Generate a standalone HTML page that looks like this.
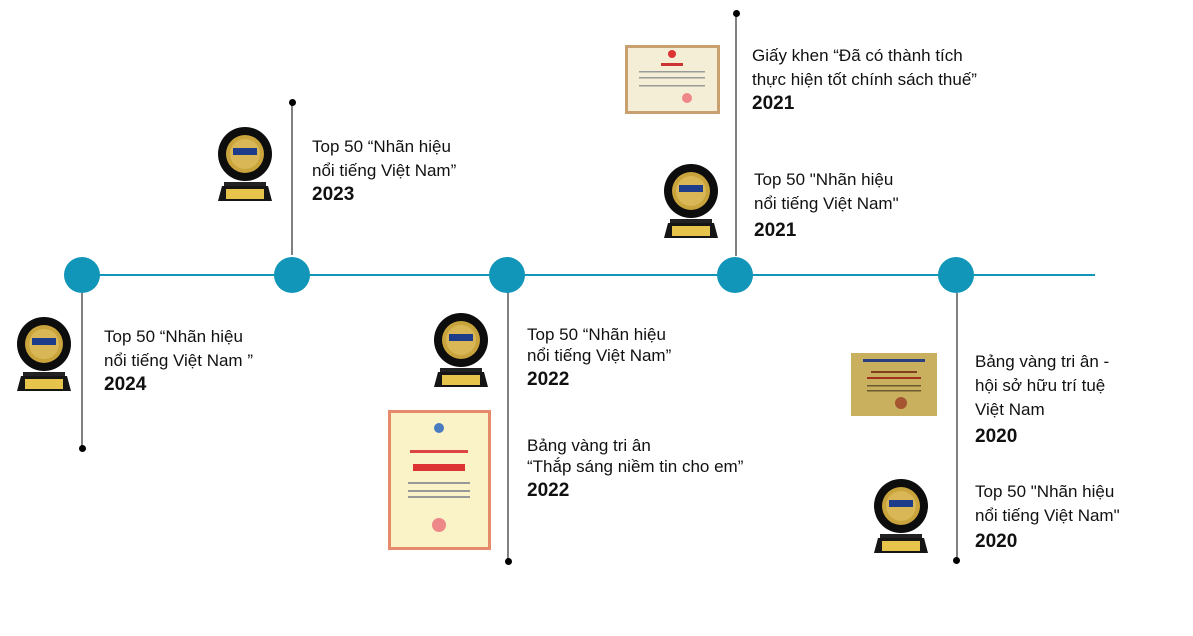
<!DOCTYPE html>
<html><head><meta charset="utf-8">
<style>
body{margin:0;width:1193px;height:636px;background:#fff;position:relative;overflow:hidden;font-family:"Liberation Sans","DejaVu Sans",sans-serif;color:#111}
.a{position:absolute}
.t{position:absolute;font-size:17px;line-height:24px;white-space:nowrap}
.t b{font-size:19px;font-weight:bold}
.c{position:absolute;width:36px;height:36px;border-radius:50%;background:#1195b8}
.s{position:absolute;width:2px;background:#808080}
.d{position:absolute;width:7px;height:7px;border-radius:50%;background:#000}
</style></head><body>
<svg width="0" height="0" style="position:absolute"><defs>
<g id="tr">
<rect x="6" y="56" width="42" height="4" fill="#222"/>
<polygon points="4,60 50,60 54,75 0,75" fill="#151515"/>
<rect x="8" y="63" width="38" height="10" fill="#e6c34a"/>
<circle cx="27" cy="28" r="27" fill="#0d0d0d"/>
<circle cx="27" cy="28" r="19" fill="#c9a43c"/>
<circle cx="27" cy="28" r="15" fill="#d9b656"/>
<rect x="15" y="22" width="24" height="7" fill="#1d3d8a"/>
</g></defs></svg>

<div class="a" style="left:82px;top:274px;width:1013px;height:2px;background:#1195b8"></div>

<div class="s" style="left:81px;top:293px;height:156px"></div><div class="d" style="left:79px;top:445px"></div>
<div class="s" style="left:291px;top:103px;height:152px"></div><div class="d" style="left:289px;top:99px"></div>
<div class="s" style="left:507px;top:293px;height:269px"></div><div class="d" style="left:505px;top:558px"></div>
<div class="s" style="left:735px;top:14px;height:242px"></div><div class="d" style="left:733px;top:10px"></div>
<div class="s" style="left:956px;top:293px;height:268px"></div><div class="d" style="left:953px;top:557px"></div>

<div class="c" style="left:64px;top:257px"></div>
<div class="c" style="left:274px;top:257px"></div>
<div class="c" style="left:489px;top:257px"></div>
<div class="c" style="left:717px;top:257px"></div>
<div class="c" style="left:938px;top:257px"></div>

<svg class="a" style="left:17px;top:316px" width="54" height="75"><use href="#tr"/></svg>
<svg class="a" style="left:218px;top:126px" width="54" height="75"><use href="#tr"/></svg>
<svg class="a" style="left:434px;top:312px" width="54" height="75"><use href="#tr"/></svg>
<svg class="a" style="left:664px;top:163px" width="54" height="75"><use href="#tr"/></svg>
<svg class="a" style="left:874px;top:478px" width="54" height="75"><use href="#tr"/></svg>

<svg class="a" style="left:625px;top:45px" width="95" height="69">
<rect x="0" y="0" width="95" height="69" fill="#c9a070"/>
<rect x="3" y="3" width="89" height="63" fill="#f5eed6"/>
<circle cx="47" cy="9" r="4" fill="#d33"/>
<rect x="36" y="18" width="22" height="3" fill="#c33"/>
<rect x="14" y="26" width="66" height="1.5" fill="#999"/>
<rect x="14" y="32" width="66" height="1.5" fill="#999"/>
<rect x="14" y="40" width="66" height="1.5" fill="#999"/>
<circle cx="62" cy="53" r="5" fill="#e88"/>
</svg>
<svg class="a" style="left:388px;top:410px" width="103" height="140">
<rect x="0" y="0" width="103" height="140" fill="#e58a6a"/>
<rect x="3" y="3" width="97" height="134" fill="#fbf3c8"/>
<circle cx="51" cy="18" r="5" fill="#4a7bc0"/>
<rect x="22" y="40" width="58" height="3" fill="#d44"/>
<rect x="25" y="54" width="52" height="7" fill="#d33"/>
<rect x="20" y="72" width="62" height="2" fill="#999"/>
<rect x="20" y="80" width="62" height="2" fill="#999"/>
<rect x="20" y="86" width="62" height="2" fill="#999"/>
<circle cx="51" cy="115" r="7" fill="#e88"/>
</svg>
<svg class="a" style="left:851px;top:353px" width="86" height="63">
<rect width="86" height="63" fill="#c9b05e"/>
<rect x="12" y="6" width="62" height="3" fill="#2a3f80"/>
<rect x="20" y="18" width="46" height="2" fill="#804020"/>
<rect x="16" y="24" width="54" height="2" fill="#a03020"/>
<rect x="16" y="32" width="54" height="1.5" fill="#6a5a30"/>
<rect x="16" y="37" width="54" height="1.5" fill="#6a5a30"/>
<circle cx="50" cy="50" r="6" fill="#a5552f"/>
</svg>

<div class="t" style="left:104px;top:325px">Top 50 “Nhãn hiệu<br>nổi tiếng Việt Nam ”<br><b>2024</b></div>
<div class="t" style="left:312px;top:135px">Top 50 “Nhãn hiệu<br>nổi tiếng Việt Nam”<br><b>2023</b></div>
<div class="t" style="left:527px;top:324px;line-height:21px">Top 50 “Nhãn hiệu<br>nổi tiếng Việt Nam”<br><b style="line-height:28px">2022</b></div>
<div class="t" style="left:527px;top:435px;line-height:21px">Bảng vàng tri ân<br>“Thắp sáng niềm tin cho em”<br><b style="line-height:28px">2022</b></div>
<div class="t" style="left:752px;top:44px">Giấy khen “Đã có thành tích<br>thực hiện tốt chính sách thuế”<br><b>2021</b></div>
<div class="t" style="left:754px;top:168px">Top 50 "Nhãn hiệu<br>nổi tiếng Việt Nam"<br><b style="line-height:30px">2021</b></div>
<div class="t" style="left:975px;top:350px">Bảng vàng tri ân -<br>hội sở hữu trí tuệ<br>Việt Nam<br><b style="line-height:30px">2020</b></div>
<div class="t" style="left:975px;top:480px">Top 50 "Nhãn hiệu<br>nổi tiếng Việt Nam"<br><b style="line-height:28px">2020</b></div>
</body></html>
